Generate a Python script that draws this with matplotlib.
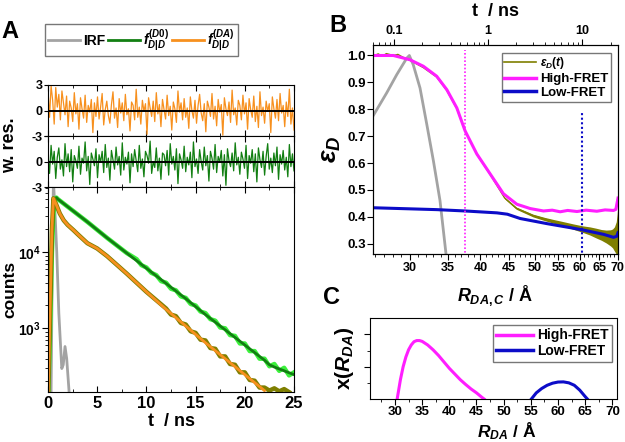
import numpy as np
import matplotlib
matplotlib.use('Agg')
import matplotlib.pyplot as plt
from matplotlib.ticker import FixedLocator, NullFormatter, FuncFormatter, LogLocator, MultipleLocator
from matplotlib.lines import Line2D

plt.rcParams['font.family'] = ['Liberation Sans', 'DejaVu Sans']
plt.rcParams['font.weight'] = 'bold'
plt.rcParams['axes.labelweight'] = 'bold'
plt.rcParams['mathtext.fontset'] = 'custom'
plt.rcParams['mathtext.rm'] = 'Liberation Sans:bold'
plt.rcParams['mathtext.it'] = 'Liberation Sans:italic:bold'
plt.rcParams['mathtext.bf'] = 'Liberation Sans:bold'

# ---------------- Panel A data ----------------
res_da = [2.4,-0.8,2.9,1.2,-1.6,2.7,0.4,1.9,-1.1,2.3,0.9,-0.5,1.7,-1.9,1.1,0.3,-1.3,2.1,-0.4,0.8,-2.2,1.5,0.2,-0.9,1.8,-1.4,0.6,-0.2,1.3,-2.6,0.9,-0.7,1.6,-1.0,0.4,2.0,-1.7,0.1,1.1,-0.6,
          -1.5,0.7,2.2,-0.9,0.3,-2.0,1.4,-0.3,0.9,-1.2,1.9,-0.5,0.2,-2.4,1.0,0.6,-1.1,2.5,-0.8,0.4,-1.6,1.2,-0.1,0.8,-2.8,1.5,0.3,-0.7,1.1,-1.3,
          2.1,-0.4,0.7,-1.9,1.3,0.1,-1.0,1.8,-0.6,0.5,-2.3,1.0,0.2,-1.4,2.3,-0.2,0.9,-1.1,1.4,-0.8,0.3,-2.1,1.6,0.0,-0.9,1.2,-1.5,0.6,1.9,-0.3,
          -1.2,0.8,-2.5,1.1,0.4,-0.7,2.0,-1.0,0.5,-1.8,1.3,-0.2,0.7,-2.9,1.5,0.2,-0.6,1.0,-1.4,2.4,-0.5,0.3,-1.7,1.2,0.6,-1.1,1.8,-0.4,0.9,-2.2,
          1.4,0.1,-0.8,1.7,-1.3,0.5,-2.0,2.2,-0.6,0.4,-1.5,1.1,-0.1,0.8,-2.6,1.6,0.2,-0.9,1.3,-1.2,2.0,-0.3,0.6,-1.9,1.0,-0.7,2.5,-1.6,0.3,-2.3]
res_d0 = [0.8,-1.4,1.9,-0.3,1.2,-2.0,0.5,1.6,-0.9,0.2,-1.7,2.1,-0.6,0.9,-1.2,1.4,-2.4,0.7,0.1,-0.8,1.8,-1.5,0.4,-0.2,2.3,-1.1,0.6,-2.7,1.0,0.3,-0.5,1.5,-1.9,0.8,-0.1,1.2,-1.3,2.0,-0.7,0.4,
          -2.2,1.3,0.2,-0.9,1.7,-0.4,0.6,-1.6,2.2,-1.0,0.5,-0.3,1.1,-2.5,0.9,-0.6,1.4,0.1,-1.2,1.9,-0.8,0.3,-1.8,1.2,0.7,-0.2,2.4,-1.4,0.0,-0.7,
          1.6,-1.1,0.4,-2.1,1.0,0.8,-0.5,1.3,-1.6,2.1,-0.3,0.6,-1.0,1.5,-2.6,0.9,0.2,-0.8,1.8,-1.2,0.5,-0.4,1.1,-1.9,2.3,-0.6,0.3,-1.4,1.4,0.0,
          -1.0,1.7,-0.5,0.7,-2.3,1.2,0.4,-0.9,2.0,-1.3,0.6,-0.1,1.3,-1.7,0.8,-2.8,1.5,0.1,-0.6,1.0,-1.1,2.2,-0.4,0.5,-1.5,1.1,0.3,-0.8,1.9,-2.0,
          0.7,-0.2,1.4,-1.2,0.9,-2.4,1.6,0.2,-0.7,1.2,-1.6,0.6,2.1,-0.9,0.4,-1.3,1.0,-0.5,1.7,-2.1,0.8,-0.3,1.3,-1.0,0.5,-1.8,2.0,-0.6,0.9,-1.1]

irf_t = [0.0, 0.3, 0.45, 0.55, 0.68, 0.89, 1.1, 1.4, 1.55, 1.73, 1.9, 2.18]
irf_log = [2.0, 2.0, 4.0, 4.95, 4.62, 4.0, 3.2, 2.47, 2.52, 2.76, 2.6, 2.1]

d0_fit_t = [0, 0.2, 0.4, 0.55, 0.7, 0.85, 1, 2, 4, 6, 8, 10, 12, 14, 16, 18, 20, 21, 22, 22.5, 23, 24, 25]
d0_fit_log = [2.0, 2.9, 4.0, 4.5, 4.7, 4.72, 4.70, 4.60, 4.40, 4.19, 3.99, 3.79, 3.59, 3.39, 3.18, 2.98, 2.78, 2.68, 2.58, 2.52, 2.49, 2.44, 2.39]
d0_data_t = [0, 0.2, 0.4, 0.55, 0.7, 0.85, 1, 2, 4, 6, 8, 9, 9.5, 10, 10.5, 11, 11.5, 12, 12.5, 13, 13.5, 14, 14.5, 15, 15.5,
             16, 16.5, 17, 17.5, 18, 18.5, 19, 19.5, 20, 20.5, 21, 21.5, 22, 22.5, 23, 23.5, 24, 24.5, 25]
d0_data_log = [2.0, 2.9, 4.0, 4.5, 4.7, 4.72, 4.70, 4.60, 4.40, 4.19, 3.99, 3.91, 3.83, 3.80, 3.73, 3.70, 3.62, 3.60, 3.52, 3.50, 3.42,
               3.40, 3.32, 3.30, 3.22, 3.20, 3.12, 3.10, 3.01, 3.00, 2.91, 2.90, 2.80, 2.80, 2.70, 2.70, 2.60, 2.60, 2.50, 2.53, 2.44,
               2.48, 2.38, 2.42]

da_fit_t = [0, 0.2, 0.4, 0.55, 0.8, 1.2, 1.6, 2, 2.6, 3, 4, 5, 6, 8, 10, 12, 14, 16, 18, 20, 22]
da_fit_log = [2.0, 3.2, 4.3, 4.71, 4.64, 4.51, 4.42, 4.36, 4.29, 4.24, 4.12, 4.05, 3.95, 3.72, 3.48, 3.25, 3.03, 2.81, 2.60, 2.39, 2.18]
da_data_t = [0, 0.2, 0.4, 0.55, 0.8, 1.2, 1.6, 2, 2.6, 3, 4, 5, 6, 8, 10, 12, 12.5, 13, 13.5, 14, 14.5, 15, 15.5, 16, 16.5, 17,
             17.5, 18, 18.5, 19, 19.5, 20, 20.5, 21, 21.5, 22, 22.5, 23, 23.5, 24, 24.5]
da_data_log = [2.0, 3.2, 4.3, 4.71, 4.64, 4.51, 4.42, 4.36, 4.29, 4.24, 4.12, 4.05, 3.95, 3.72, 3.48, 3.26, 3.18, 3.16, 3.07, 3.05,
               2.96, 2.94, 2.85, 2.84, 2.74, 2.73, 2.63, 2.63, 2.53, 2.52, 2.42, 2.42, 2.32, 2.31, 2.22, 2.22, 2.18, 2.21, 2.17,
               2.20, 2.16]

# ---------------- Panel B data ----------------
T_REF, R_REF = 10.0, 60.6   # t <-> R_DA,C conversion (R ~ t^(1/6))
r_ticks = [30, 35, 40, 45, 50, 55, 60, 65, 70]

high_t = [0.0598, 0.0984, 0.148, 0.205, 0.284, 0.364, 0.465, 0.569, 0.758, 1.05, 1.455, 2.02, 2.80, 3.88, 4.8, 5.83,
          7.0, 8.79, 11.0, 14.3, 17.5, 21.5, 22.8, 23.4, 24.0]
high_eps = [1.0, 1.0, 0.984, 0.96, 0.923, 0.873, 0.805, 0.72, 0.634, 0.56, 0.486, 0.447, 0.431, 0.422, 0.425, 0.419,
            0.424, 0.420, 0.425, 0.421, 0.426, 0.424, 0.428, 0.45, 0.47]
low_t = [0.0598, 0.284, 0.569, 1.24, 1.6, 2.19, 4.21, 7.45, 10.3, 16.9, 21.5, 23.3, 24.0]
low_eps = [0.434, 0.427, 0.422, 0.415, 0.41, 0.394, 0.375, 0.36, 0.351, 0.335, 0.324, 0.328, 0.341]
eps_t = [0.0602, 0.068, 0.075, 0.083, 0.0984, 0.11, 0.125, 0.148, 0.205, 0.284, 0.364, 0.465, 0.569, 0.758, 1.05, 1.5,
         2, 3, 4, 5, 6, 8, 10, 12, 14, 16, 18, 20, 21, 22, 23, 23.5, 24]
eps_val = [0.998, 1.006, 0.997, 1.007, 1.0, 1.004, 0.993, 0.982, 0.955, 0.92, 0.87, 0.803, 0.72, 0.633, 0.558, 0.47,
           0.432, 0.405, 0.392, 0.383, 0.376, 0.364, 0.355, 0.348, 0.340, 0.333, 0.327, 0.322, 0.320, 0.318, 0.322, 0.33, 0.345]
eps_band_t = [1.5, 2, 3, 4, 5, 6, 8, 10, 12, 14, 16, 18, 20, 21, 22, 23, 23.5, 24]
eps_band_lo = [0.467, 0.428, 0.400, 0.386, 0.376, 0.368, 0.354, 0.343, 0.333, 0.322, 0.313, 0.303, 0.292, 0.285, 0.273, 0.262, 0.25, 0.245]
eps_band_hi = [0.473, 0.436, 0.410, 0.398, 0.390, 0.384, 0.374, 0.367, 0.363, 0.358, 0.353, 0.351, 0.352, 0.355, 0.363, 0.382, 0.41, 0.445]
irf_b_t = [0.0598, 0.0836, 0.107, 0.1365, 0.1455, 0.160, 0.189, 0.223, 0.262, 0.308, 0.357]
irf_b_eps = [0.775, 0.861, 0.929, 0.99, 1.0, 0.966, 0.879, 0.744, 0.609, 0.461, 0.262]
mark_t = [0.569, 9.94]
mark_top = [1.02, 0.79]

# ---------------- Panel C data ----------------
high_R = [30.4, 31, 31.5, 32, 32.5, 33, 33.5, 34, 34.5, 35, 36, 37, 38, 39, 40, 41, 42, 43, 44, 45, 46, 46.4]
high_x = [0, 1.2, 2.0, 2.6, 3.05, 3.35, 3.55, 3.62, 3.62, 3.57, 3.35, 3.05, 2.7, 2.3, 1.9, 1.55, 1.2, 0.9, 0.62, 0.38, 0.1, 0]
low_R = [55.1, 56, 57, 58, 59, 60, 61, 62, 63, 64, 65, 65.4]
low_x = [0, 0.38, 0.65, 0.85, 0.98, 1.05, 1.06, 1.0, 0.85, 0.55, 0.15, 0]

# ---------------- colours ----------------
C_IRF = '#a3a3a3'
C_D0 = '#127f12'
C_D0_DATA = '#3cf03c'
C_DA = '#f7901e'
C_DA_DATA = '#7f7f00'
C_HIGH = '#ff1eff'
C_LOW = '#0c0cc8'

fig = plt.figure(figsize=(6.25, 4.42), dpi=100)

# ---------- Panel A ----------
L, W = 0.0768, 0.3936
ax_r1 = fig.add_axes([L, 0.6923, W, 0.1154])
ax_r2 = fig.add_axes([L, 0.5769, W, 0.1154])
ax_c = fig.add_axes([L, 0.1131, W, 0.4638])

t_res = np.linspace(0, 25, len(res_da))
ax_r1.plot(t_res, res_da, color=C_DA, lw=0.9)
ax_r2.plot(t_res, res_d0, color=C_D0, lw=0.9)
for ax, labs in ((ax_r1, ['-3', '0', '3']), (ax_r2, ['-3', '0', ''])):
    ax.axhline(0, color='black', lw=1.4)
    ax.set_xlim(0, 25)
    ax.set_ylim(-3, 3)
    ax.set_yticks([-3, 0, 3])
    ax.set_yticklabels(labs)
    ax.xaxis.set_major_locator(MultipleLocator(5))
    ax.xaxis.set_minor_locator(MultipleLocator(2.5))
    ax.tick_params(axis='x', which='both', direction='in', top=True, bottom=True, labelbottom=False)
    ax.tick_params(axis='x', which='major', length=4)
    ax.tick_params(axis='x', which='minor', length=2)
    ax.tick_params(axis='y', direction='out', length=3, labelsize=9, pad=1)
fig.text(10 / 625, 1 - 145 / 442, 'w. res.', rotation=90, ha='center', va='center', fontsize=13, fontweight='bold')

ax_c.plot(irf_t, 10 ** np.array(irf_log), color=C_IRF, lw=2)
ax_c.plot(d0_data_t, 10 ** np.array(d0_data_log), color=C_D0_DATA, lw=3.2)
ax_c.plot(d0_fit_t, 10 ** np.array(d0_fit_log), color=C_D0, lw=2)
ax_c.plot(da_data_t, 10 ** np.array(da_data_log), color=C_DA_DATA, lw=3.2)
ax_c.plot(da_fit_t, 10 ** np.array(da_fit_log), color=C_DA, lw=2)
ax_c.set_yscale('log')
ax_c.set_xlim(0, 25)
ax_c.set_ylim(145, 72300)
ax_c.xaxis.set_major_locator(MultipleLocator(5))
ax_c.xaxis.set_minor_locator(MultipleLocator(2.5))
ax_c.tick_params(axis='x', which='both', direction='in', top=True, bottom=True, labelsize=12, pad=3)
ax_c.tick_params(axis='x', which='major', length=4)
ax_c.tick_params(axis='x', which='minor', length=2)
ax_c.yaxis.set_major_locator(LogLocator(base=10))
ax_c.yaxis.set_minor_locator(LogLocator(base=10, subs=np.arange(2, 10)))
ax_c.yaxis.set_major_formatter(FuncFormatter(lambda v, p: r'$\mathbf{10^{%d}}$' % int(round(np.log10(v)))))
ax_c.yaxis.set_minor_formatter(NullFormatter())
ax_c.tick_params(axis='y', which='both', direction='out', labelsize=10, pad=1)
ax_c.tick_params(axis='y', which='major', length=4)
ax_c.tick_params(axis='y', which='minor', length=2)
ax_c.set_xlabel('t  / ns', fontsize=13, labelpad=1)
ax_c.set_ylabel('counts', fontsize=12.5)
ax_c.yaxis.set_label_coords(-0.125, 0.5)

handles = [Line2D([], [], color=C_IRF, lw=2), Line2D([], [], color=C_D0, lw=2), Line2D([], [], color=C_DA, lw=2)]
labels = ['IRF', r'$f^{(D0)}_{D|D}$', r'$f^{(DA)}_{D|D}$']
leg = fig.legend(handles, labels, loc='center', bbox_to_anchor=(141.5 / 625, 1 - 40 / 442), ncol=3, frameon=True,
                 fancybox=False, edgecolor='#555555', handlelength=2.3, handletextpad=0.2, columnspacing=0.2,
                 fontsize=10, borderpad=0.25, borderaxespad=0)
leg.get_frame().set_linewidth(1.0)

# ---------- Panel B ----------
def t_of_R(R):
    return T_REF * (np.asarray(R, dtype=float) / R_REF) ** 6

ax_b = fig.add_axes([0.5968, 0.4253, 0.392, 0.4729])
xl = (0.0598, 24.0)
ax_b.fill_between(eps_band_t, eps_band_lo, eps_band_hi, color=C_DA_DATA, lw=0)
ax_b.plot(eps_t, eps_val, color=C_DA_DATA, lw=1.0)
ax_b.plot(irf_b_t, irf_b_eps, color=C_IRF, lw=2)
ax_b.plot(high_t, high_eps, color=C_HIGH, lw=2.2)
ax_b.plot(low_t, low_eps, color=C_LOW, lw=2.2)
ax_b.vlines(mark_t[0], 0.2, mark_top[0], color=C_HIGH, lw=1.2, linestyles=(0, (1, 1.2)))
ax_b.vlines(mark_t[1], 0.2, mark_top[1], color=C_LOW, lw=1.5, linestyles=(0, (1, 1.2)))
ax_b.set_xscale('log')
ax_b.set_xlim(*xl)
ax_b.set_ylim(0.262, 1.039)
ax_b.set_yticks(np.round(np.arange(0.3, 1.01, 0.1), 1))
ax_b.yaxis.set_major_formatter(FuncFormatter(lambda v, p: '%.1f' % v))
ax_b.xaxis.set_major_locator(FixedLocator(t_of_R(r_ticks)))
ax_b.xaxis.set_major_formatter(FuncFormatter(lambda v, p: '%d' % round(R_REF * (v / T_REF) ** (1 / 6))))
ax_b.xaxis.set_minor_locator(FixedLocator(t_of_R(np.arange(26, 71))))
ax_b.xaxis.set_minor_formatter(NullFormatter())
ax_b.tick_params(axis='both', which='both', direction='out', pad=2)
ax_b.tick_params(axis='x', which='major', length=4, labelsize=9)
ax_b.tick_params(axis='x', which='minor', length=2)
ax_b.tick_params(axis='y', length=4, pad=1, labelsize=9.5)
ax_b.set_ylabel(r'$\varepsilon_D$', fontsize=19, labelpad=3)
ax_b.set_xlabel(r'$R_{DA,C}$ / Å', fontsize=13, labelpad=6)

ax_t = ax_b.twiny()
ax_t.set_xscale('log')
ax_t.set_xlim(*xl)
ax_t.xaxis.set_major_locator(FixedLocator([0.1, 1, 10]))
ax_t.xaxis.set_major_formatter(FuncFormatter(lambda v, p: ('%g' % v)))
ax_t.xaxis.set_minor_locator(LogLocator(base=10, subs=np.arange(2, 10)))
ax_t.xaxis.set_minor_formatter(NullFormatter())
ax_t.tick_params(axis='x', which='both', direction='out', labelsize=9, pad=2)
ax_t.tick_params(axis='x', which='major', length=4)
ax_t.tick_params(axis='x', which='minor', length=2)
ax_t.set_xlabel('t  / ns', fontsize=13, labelpad=6)

hb = [Line2D([], [], color=C_DA_DATA, lw=1.2), Line2D([], [], color=C_HIGH, lw=2.5), Line2D([], [], color=C_LOW, lw=2.5)]
lb = [r'$\varepsilon_D(t)$', 'High-FRET', 'Low-FRET']
legb = ax_b.legend(hb, lb, loc='upper right', bbox_to_anchor=(611 / 625, 1 - 52.7 / 442),
                   bbox_transform=fig.transFigure, frameon=True, fancybox=False, edgecolor='#555555',
                   fontsize=9.5, handlelength=2.4, handletextpad=0.3, borderpad=0.2, labelspacing=0.12,
                   borderaxespad=0)
legb.get_frame().set_linewidth(1.0)
legb.texts[0].set_fontsize(8.5)

# ---------- Panel C ----------
ax_x = fig.add_axes([0.592, 0.0973, 0.3947, 0.1826])
ax_x.plot(high_R, high_x, color=C_HIGH, lw=2.2)
ax_x.plot(low_R, low_x, color=C_LOW, lw=2.2)
ax_x.set_xlim(25.4, 70.8)
ax_x.set_ylim(0, 5)
ax_x.xaxis.set_major_locator(MultipleLocator(5))
ax_x.xaxis.set_minor_locator(MultipleLocator(2.5))
ax_x.xaxis.set_major_formatter(FuncFormatter(lambda v, p: '%d' % v))
ax_x.yaxis.set_major_locator(FixedLocator([2, 4]))
ax_x.yaxis.set_minor_locator(FixedLocator([1, 3]))
ax_x.yaxis.set_major_formatter(NullFormatter())
ax_x.tick_params(axis='both', which='both', direction='out', labelsize=9.5, pad=1)
ax_x.tick_params(which='major', length=4)
ax_x.tick_params(which='minor', length=2)
ax_x.set_xlabel(r'$R_{DA}$ / Å', fontsize=12.5)
ax_x.xaxis.set_label_coords(0.555, -0.265)
ax_x.set_ylabel(r'x($R_{DA}$)', fontsize=15)
ax_x.yaxis.set_label_coords(-0.055, 0.5)
hc = [Line2D([], [], color=C_HIGH, lw=2.5), Line2D([], [], color=C_LOW, lw=2.5)]
legc = ax_x.legend(hc, ['High-FRET', 'Low-FRET'], loc='upper right', bbox_to_anchor=(611.7 / 625, 1 - 325 / 442),
                   bbox_transform=fig.transFigure, frameon=True, fancybox=False, edgecolor='#555555',
                   fontsize=10, handlelength=2.6, handletextpad=0.3, borderpad=0.25, labelspacing=0.12,
                   borderaxespad=0)
legc.get_frame().set_linewidth(1.0)

# ---------- panel letters ----------
fig.text(10 / 625, 1 - 31 / 442, 'A', fontsize=17, fontweight='bold', ha='center', va='center')
fig.text(338 / 625, 1 - 25 / 442, 'B', fontsize=17, fontweight='bold', ha='center', va='center')
fig.text(332 / 625, 1 - 298 / 442, 'C', fontsize=17, fontweight='bold', ha='center', va='center')

fig.savefig('out.png', dpi=100)
